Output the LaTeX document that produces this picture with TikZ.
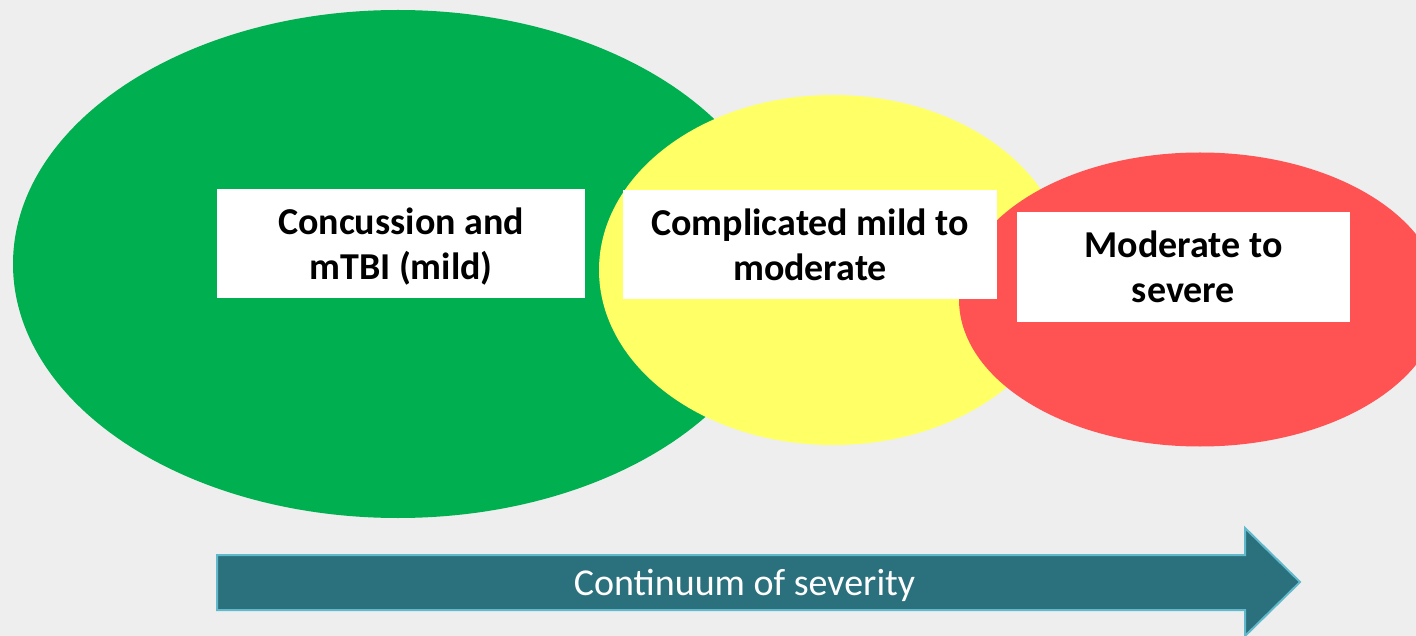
\documentclass[tikz,border=0pt]{standalone}
\usepackage{fontspec}
\setmainfont{Carlito}
\usetikzlibrary{shapes.geometric}
\definecolor{bgc}{HTML}{EEEEEE}
\definecolor{grn}{HTML}{00B050}
\definecolor{ylw}{HTML}{FFFF66}
\definecolor{rdc}{HTML}{FF5252}
\definecolor{arrfill}{HTML}{2A717D}
\definecolor{arredge}{HTML}{62B9CB}
\tikzset{
  blob/.style={ellipse, draw=none, inner sep=0pt, outer sep=0pt},
  label box/.style={rectangle, fill=white, draw=none, inner sep=0pt, outer sep=0pt,
    align=center, font=\fontsize{38}{45}\selectfont\bfseries},
}
\begin{document}
\begin{tikzpicture}[x=1pt,y=-1pt]
\fill[bgc] (0,0) rectangle (1416,636);
\useasboundingbox (0,0) rectangle (1416,636);
\node[blob, fill=grn, minimum width=770pt, minimum height=508pt] (green) at (398,264) {};
\node[blob, fill=ylw, minimum width=468pt, minimum height=350pt] (yellow) at (833,270) {};
\node[blob, fill=rdc, minimum width=482pt, minimum height=294pt] (red) at (1200,299.5) {};
\node[label box, minimum width=368pt, minimum height=109pt] (b1) at (401,243.5) {};
\node[label box, inner sep=0pt] (t1) at (401,247) {Concussion and\\mTBI (mild)};
\node[label box, minimum width=374pt, minimum height=109pt] (b2) at (810,244.5) {Complicated mild to\\moderate};
\node[label box, minimum width=333pt, minimum height=110pt] (b3) at (1183.5,267) {Moderate to\\severe};
\draw[fill=arrfill, draw=arredge, line width=2pt, line join=miter]
  (217,555) -- (1245,555) -- (1245,528) -- (1300,582) -- (1245,636) -- (1245,610) -- (217,610) -- cycle;
\node[text=white, font=\fontsize{38}{45}\selectfont, inner sep=0pt] (lbl) at (744.5,585.5) {Continuum of severity};
\end{tikzpicture}
\end{document}
